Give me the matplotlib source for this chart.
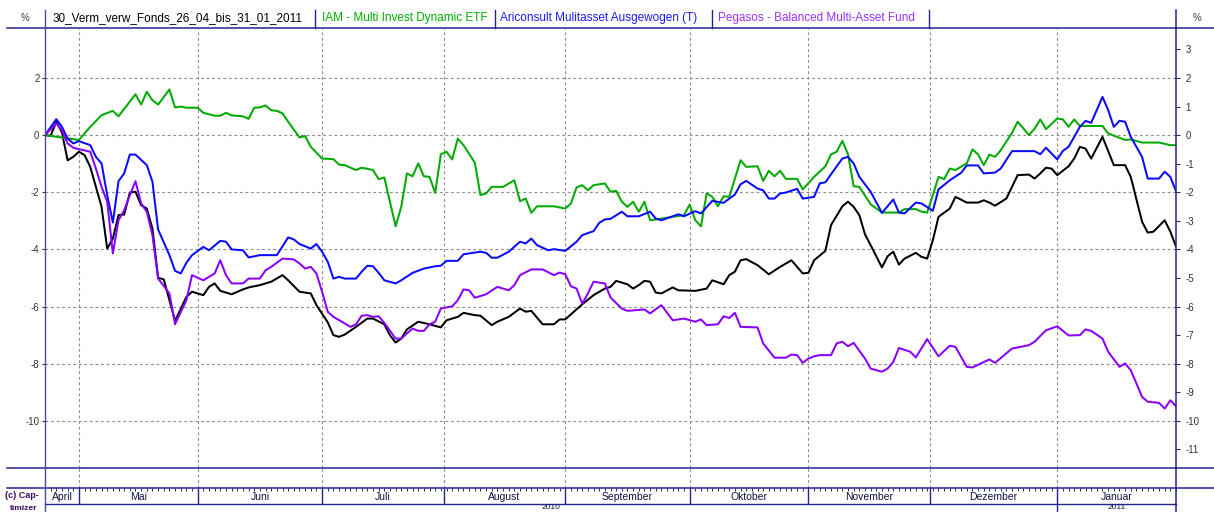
import matplotlib
matplotlib.use("Agg")
import matplotlib.pyplot as plt

plt.rcParams['font.family'] = ['Liberation Sans', 'DejaVu Sans']

W, H = 1214, 512
NAVY = "#24248a"
GRID = "#8c8c8c"

# x = Handelstag (0 = 26.04.2010 ... 200 = 31.01.2011), y = Wertentwicklung in %
month_starts = [6, 27, 49, 70.5, 92, 114, 135, 156.5, 179]
month_names = ["April", "Mai", "Juni", "Juli", "August", "September",
               "Oktober", "November", "Dezember", "Januar"]
year_names = ["2010", "2011"]
year_bounds = [0, 179, 200]
left_ticks = [-10, -8, -6, -4, -2, 0, 2]
right_ticks = list(range(-11, 4))

names = ["30_Verm_verw_Fonds_26_04_bis_31_01_2011",
         "IAM - Multi Invest Dynamic ETF",
         "Ariconsult Mulitasset Ausgewogen (T)",
         "Pegasos - Balanced Multi-Asset Fund"]
colors = ["#000000", "#00aa00", "#0a0aff", "#8a00ff"]

depot_x = [0, 1, 2, 3, 4, 5, 6, 7, 8, 9, 10, 11, 12, 13, 14, 15, 16, 17, 18, 19, 20, 21,
           23, 25, 26, 28, 29, 30, 31, 33, 35, 36, 38, 40, 42, 43, 45, 47, 48, 50, 51, 52,
           53, 55, 57, 58, 60, 61, 62, 63, 64, 66, 68, 70, 71, 73, 74, 76, 77, 79, 80, 82,
           84, 85, 86, 88, 90, 91, 92, 95, 97, 99, 100, 101, 103, 104, 105, 106, 107, 108,
           109, 111, 112, 115, 117, 118, 120, 121, 122, 123, 124, 126, 128, 130, 132, 134,
           135, 136, 138, 139, 141, 142, 143, 144, 145, 146, 148, 149, 150, 151, 152, 154,
           155, 156, 157, 158, 160, 161, 163, 165, 166, 167, 168, 170, 172, 174, 175, 176,
           177, 178, 179, 181, 182, 183, 184, 185, 187, 189, 191, 192, 194, 195, 196, 198,
           199, 200]
depot_y = [0, -0.02, 0.47, 0.09, -0.88, -0.76, -0.58, -0.70, -1.11, -1.81, -2.51, -3.97,
           -3.62, -2.80, -2.78, -2.01, -1.98, -2.45, -2.57, -3.27, -4.99, -5.05,
           -6.5, -5.66, -5.48, -5.6, -5.31, -5.19, -5.45, -5.57, -5.40, -5.33, -5.25, -5.13,
           -4.9, -5.08, -5.48, -5.54, -5.95, -6.55, -7.0, -7.06, -6.98, -6.71, -6.42, -6.42,
           -6.62, -7.0, -7.26, -7.12, -6.8, -6.53, -6.62, -6.73, -6.48, -6.36, -6.22, -6.3,
           -6.32, -6.65, -6.53, -6.36, -6.07, -6.18, -6.15, -6.62, -6.62, -6.45, -6.45, -5.92,
           -5.6, -5.37, -5.31, -5.1, -5.22, -5.37, -5.25, -5.1, -5.13, -5.51, -5.54, -5.33,
           -5.43, -5.45, -5.37, -5.08, -5.22, -4.9, -4.78, -4.38, -4.34, -4.55, -4.87, -4.61,
           -4.38, -4.84, -4.82, -4.38, -4.05, -3.15, -2.49, -2.33, -2.51, -2.8, -3.47, -3.85,
           -4.63, -4.24, -4.08, -4.53, -4.32, -4.12, -4.26, -4.32, -3.68, -2.86, -2.57, -2.16,
           -2.36, -2.36, -2.28, -2.36, -2.47, -2.22, -1.4, -1.38, -1.52, -1.34, -1.14, -1.17,
           -1.4, -1.09, -0.82, -0.41, -0.47, -0.82, -0.06, -1.05, -1.05, -1.46, -3.03, -3.41,
           -3.38, -2.98, -3.38, -3.9]

iam_x = [0, 6, 8, 10, 12, 13, 16, 17, 18, 19, 20, 22, 23, 24, 25, 27, 28, 30, 31, 32, 33,
         35, 36, 37, 38, 39, 40, 41, 42, 43, 45, 46, 47, 49, 51, 52, 53, 55, 56, 58, 59, 60,
         62, 63, 64, 65, 66, 67, 68, 69, 70, 71, 72, 73, 74, 76, 77, 78, 79, 81, 83, 84, 85,
         86, 87, 90, 92, 93, 94, 95, 96, 97, 99, 100, 101, 102, 103, 104, 105, 106, 107, 109,
         113, 114, 115, 116, 117, 118, 119, 120, 121, 123, 124, 126, 127, 128, 129, 130, 131,
         133, 134, 136, 138, 139, 140, 141, 142, 143, 144, 146, 148, 151, 152, 154, 155, 156,
         157, 158, 159, 160, 161, 163, 164, 165, 166, 167, 168, 169, 171, 172, 174, 175, 176,
         177, 179, 180, 181, 182, 183, 187, 188, 191, 192, 194, 197, 199, 200]
iam_y = [0, -0.17, 0.29, 0.7, 0.85, 0.66, 1.43, 1.07, 1.52, 1.22, 1.07, 1.6, 0.97, 1.0, 0.96,
         0.96, 0.78, 0.68, 0.68, 0.78, 0.69, 0.66, 0.57, 0.96, 0.97, 1.04, 0.87, 0.85, 0.76,
         0.47, -0.08, -0.03, -0.41, -0.82, -0.84, -1.03, -1.05, -1.22, -1.14, -1.22, -1.54,
         -1.48, -3.19, -2.51, -1.34, -1.44, -0.99, -1.44, -1.46, -2.02, -0.67, -0.58, -0.85,
         -0.12, -0.35, -0.96, -2.10, -2.04, -1.81, -1.81, -1.58, -2.31, -2.22, -2.72, -2.49,
         -2.49, -2.57, -2.39, -1.83, -1.75, -1.93, -1.75, -1.69, -1.98, -1.95, -2.33, -2.51,
         -2.33, -2.68, -2.33, -2.98, -2.92, -2.8, -2.43, -2.98, -3.19, -2.04, -2.16, -2.49,
         -2.14, -2.16, -0.88, -1.11, -1.09, -1.60, -1.25, -1.44, -1.25, -1.53, -1.53, -1.90,
         -1.46, -1.09, -0.67, -0.58, -0.2, -0.67, -1.79, -1.81, -2.42, -2.71, -2.71, -2.59,
         -2.59, -2.68, -2.71, -2.10, -1.46, -1.54, -1.17, -1.22, -0.99, -0.50, -0.67, -1.05,
         -0.68, -0.76, -0.53, 0.08, 0.47, 0.0, 0.23, 0.55, 0.21, 0.58, 0.55, 0.29, 0.55, 0.32,
         0.32, 0.06, -0.17, -0.15, -0.26, -0.26, -0.35, -0.35]

ari_x = [0, 2, 3, 4, 5, 6, 8, 9, 10, 11, 12, 13, 14, 15, 16, 18, 19, 20, 22, 23, 24, 25, 26,
         28, 29, 31, 32, 33, 35, 36, 38, 41, 43, 44, 45, 47, 48, 49, 50, 51, 52, 53, 55, 56,
         57, 58, 59, 60, 62, 63, 65, 67, 69, 70, 71, 73, 74, 77, 78, 79, 80, 82, 84, 85, 86,
         87, 89, 90, 92, 94, 95, 97, 98, 99, 100, 102, 103, 105, 107, 108, 109, 112, 113, 115,
         116, 118, 120, 122, 123, 124, 126, 127, 128, 129, 130, 131, 133, 134, 136, 137, 138,
         140, 141, 142, 143, 144, 146, 148, 149, 150, 151, 152, 154, 155, 157, 158, 160, 162,
         163, 165, 166, 168, 169, 171, 175, 176, 177, 179, 180, 181, 183, 184, 185, 187, 188,
         189, 190, 191, 192, 194, 195, 197, 198, 199, 200]
ari_y = [0, 0.56, 0.29, -0.12, -0.29, -0.21, -0.35, -0.76, -0.99, -2.10, -3.06, -1.61, -1.34,
         -0.68, -0.68, -1.05, -1.63, -3.3, -4.2, -4.75, -4.84, -4.47, -4.2, -3.91, -4.03,
         -3.70, -3.73, -4.0, -4.03, -4.28, -4.2, -4.2, -3.58, -3.65, -3.81, -3.97, -3.81,
         -4.08, -4.43, -5.02, -4.96, -5.02, -5.02, -4.78, -4.57, -4.59, -4.82, -5.08, -5.19,
         -5.08, -4.82, -4.67, -4.59, -4.57, -4.40, -4.40, -4.17, -4.08, -4.12, -4.29, -4.29,
         -4.08, -3.73, -3.79, -3.62, -3.85, -4.03, -3.99, -4.05, -3.73, -3.5, -3.36, -3.07,
         -2.95, -2.93, -2.68, -2.84, -2.84, -2.68, -2.92, -2.98, -2.77, -2.84, -2.66, -2.74,
         -2.30, -2.37, -2.08, -1.72, -1.60, -1.87, -1.93, -2.22, -2.22, -2.04, -2.01, -1.88,
         -2.22, -2.16, -1.69, -1.65, -1.09, -0.82, -0.76, -0.99, -1.46, -1.98, -2.72, -2.49,
         -2.25, -2.71, -2.74, -2.36, -2.39, -2.65, -1.90, -1.58, -1.32, -1.06, -1.06, -1.34,
         -1.31, -1.17, -0.56, -0.56, -0.67, -0.44, -0.85, -0.55, -0.41, 0.29, 0.50, 0.43,
         1.34, 0.88, 0.29, 0.50, 0.47, -0.06, -0.76, -1.52, -1.52, -1.28, -1.46, -1.96]

peg_x = [0, 2, 3, 4, 5, 6, 8, 9, 10, 11, 12, 13, 14, 15, 16, 17, 18, 19, 20, 22, 23, 25, 26,
         28, 30, 31, 32, 33, 35, 36, 38, 39, 40, 42, 44, 45, 46, 47, 48, 49, 50, 51, 53, 54,
         55, 56, 57, 58, 59, 60, 62, 63, 64, 65, 66, 67, 68, 69, 70, 72, 73, 74, 75, 76, 78,
         80, 82, 83, 84, 86, 88, 90, 91, 92, 93, 94, 95, 96, 97, 99, 100, 102, 103, 106, 107,
         109, 111, 113, 115, 116, 117, 119, 120, 121, 122, 123, 126, 127, 129, 131, 132, 133,
         134, 135, 136, 137, 139, 140, 141, 142, 143, 145, 146, 148, 149, 150, 151, 153, 154,
         156, 158, 160, 161, 163, 164, 167, 168, 171, 174, 175, 177, 179, 181, 183, 184, 185,
         187, 188, 190, 191, 192, 193, 194, 195, 197, 198, 199, 200]
peg_y = [0, 0.41, 0.17, -0.29, -0.44, -0.49, -0.58, -1.17, -1.81, -2.33, -4.14, -2.98, -2.63,
         -2.10, -1.61, -2.39, -2.68, -3.5, -5.02, -5.54, -6.62, -5.78, -4.90, -5.08, -4.84,
         -4.38, -4.90, -5.19, -5.19, -5.02, -5.02, -4.73, -4.61, -4.32, -4.35, -4.49, -4.67,
         -4.61, -4.84, -5.48, -6.18, -6.36, -6.59, -6.71, -6.62, -6.32, -6.3, -6.36, -6.34,
         -6.57, -7.12, -7.12, -6.94, -6.77, -6.85, -6.85, -6.62, -6.53, -6.07, -5.99, -5.78,
         -5.40, -5.43, -5.69, -5.57, -5.31, -5.43, -5.25, -4.90, -4.70, -4.70, -4.90, -4.81,
         -4.87, -5.29, -5.37, -5.90, -5.54, -5.13, -5.19, -5.68, -6.07, -6.15, -6.10, -6.24,
         -5.95, -6.48, -6.42, -6.53, -6.45, -6.65, -6.62, -6.34, -6.40, -6.22, -6.71, -6.73,
         -7.29, -7.79, -7.79, -7.68, -7.70, -7.97, -7.82, -7.74, -7.70, -7.70, -7.29, -7.23,
         -7.39, -7.27, -7.82, -8.17, -8.28, -8.17, -7.94, -7.45, -7.58, -7.78, -7.14, -7.74,
         -7.37, -7.41, -8.11, -8.13, -7.85, -7.97, -7.47, -7.35, -7.23, -6.83, -6.69, -7.01,
         -7.0, -6.80, -6.85, -7.12, -7.58, -8.11, -7.99, -8.23, -8.69, -9.16, -9.33, -9.37,
         -9.57, -9.28, -9.49]

series = [(depot_x, depot_y), (iam_x, iam_y), (ari_x, ari_y), (peg_x, peg_y)]

fig = plt.figure(figsize=(W / 100, H / 100), dpi=100, facecolor="white")

# Hauptdiagramm
ax = fig.add_axes([45 / W, 1 - 468 / H, 1131 / W, 440 / H])
ax.set_xlim(0, 200)
ax.set_ylim(-11.65, 3.75)
for s in ax.spines.values():
    s.set_visible(False)
for v in left_ticks:
    ax.axhline(v, color=GRID, lw=0.8, ls=(0, (2.5, 2.5)), zorder=1)
for m in month_starts:
    ax.axvline(m, color=GRID, lw=0.8, ls=(0, (2.5, 2.5)), zorder=1)
for (xs, ys), c in zip(series, colors):
    ax.plot(xs, ys, color=c, lw=1.45, zorder=3)
ax.set_xticks([])
ax.set_yticks(left_ticks)
ax.set_yticklabels([str(v) for v in left_ticks])
ax.tick_params(axis="y", direction="out", length=2.5, width=0.8, pad=1.5,
               labelsize=7, colors="#303030")

axr = ax.twinx()
axr.set_ylim(ax.get_ylim())
for s in axr.spines.values():
    s.set_visible(False)
axr.set_yticks(right_ticks)
axr.set_yticklabels([str(v) for v in right_ticks])
axr.tick_params(axis="y", direction="out", length=3, width=0.8, pad=4,
                labelsize=7, colors="#303030")

# leerer Streifen unter dem Diagramm
strip = fig.add_axes([45 / W, 1 - 488 / H, 1131 / W, 20 / H])
strip.set_xlim(0, 200)
strip.axis("off")
for m in month_starts:
    strip.axvline(m, color=GRID, lw=0.8, ls=(0, (2.5, 2.5)))

# Monatsleiste
axm = fig.add_axes([45 / W, 1 - 503.5 / H, 1131 / W, 15.5 / H])
axm.set_xlim(0, 200)
axm.set_ylim(0, 1)
for s in axm.spines.values():
    s.set_visible(False)
axm.set_yticks([])
axm.set_xticks(range(0, 201))
axm.tick_params(axis="x", which="both", top=True, bottom=False, labeltop=False,
                labelbottom=False, direction="in", length=2.5, width=0.7, color=NAVY)
axm.vlines(month_starts, 0, 1, color=NAVY, lw=1.0)
bounds = [0] + month_starts + [200]
for i, name in enumerate(month_names):
    axm.text((bounds[i] + bounds[i + 1]) / 2, 0.4, name, ha="center", va="center",
             fontsize=7.5, color="#101040")

# Jahreszeile
axy = fig.add_axes([45 / W, 0, 1131 / W, 8.5 / H])
axy.set_xlim(0, 200)
axy.set_ylim(0, 1)
axy.axis("off")
axy.vlines(year_bounds[1:-1], 0, 1, color=NAVY, lw=1.0)
for i, name in enumerate(year_names):
    axy.text((year_bounds[i] + year_bounds[i + 1]) / 2, 0.06, name, ha="center",
             va="bottom", fontsize=6, color="#101040")

# Rahmen, Kopfzeile
ov = fig.add_axes([0, 0, 1, 1], zorder=5)
ov.set_xlim(0, W)
ov.set_ylim(H, 0)
ov.axis("off")
ov.patch.set_alpha(0)
for y in (28, 468, 488):
    ov.plot([7, W], [y, y], color=NAVY, lw=1.1)
ov.plot([45, 1176], [503.5, 503.5], color=NAVY, lw=1.0)
ov.plot([45, 45], [10, H], color="#4a4aa0", lw=1.0)
ov.plot([1176, 1176], [10, H], color=NAVY, lw=1.1)
for xsep in (315, 494.5, 711.5, 928.5):
    ov.plot([xsep, xsep], [10, 28], color=NAVY, lw=1.0)

ov.text(25, 18, "%", ha="center", va="center", fontsize=7, color="#404040")
ov.text(1197, 18, "%", ha="center", va="center", fontsize=7, color="#404040")
for xt, name, c in zip((53, 321.5, 500.5, 717.5), names,
                       ("#000000", "#00b000", "#1a1aff", "#9a30ff")):
    ov.text(xt, 18.5, name, ha="left", va="center", fontsize=8.5, color=c)

ov.text(5, 495, "(c) Cap-", ha="left", va="center", fontsize=6.5, fontweight="bold",
        color="#3a0a60")
ov.text(10, 511.5, "timizer", ha="left", va="bottom", fontsize=6, fontweight="bold",
        color="#3a0a60")

fig.savefig("out.png", dpi=100, facecolor="white")
